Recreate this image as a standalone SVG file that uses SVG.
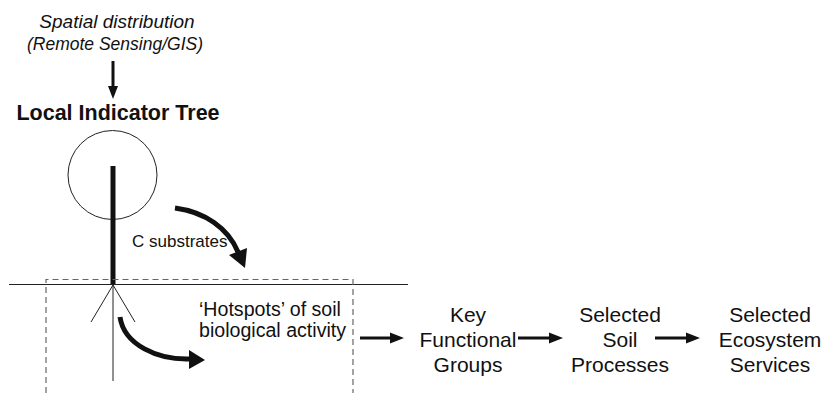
<svg xmlns="http://www.w3.org/2000/svg" width="824" height="393" viewBox="0 0 824 393">
<style>
text{font-family:"Liberation Sans",Arial,sans-serif;fill:#111}
.it{font-style:italic}
.lbl{font-size:21px;text-anchor:middle}
.thin{stroke:#222;stroke-width:1;fill:none}
.thick{stroke:#111;stroke-width:5;fill:none}
.conn{stroke:#111;stroke-width:3;fill:none}
.head{fill:#111}
</style>
<rect width="824" height="393" fill="#fff"/>
<g id="source">
<text class="it" x="117" y="28" font-size="19" text-anchor="middle">Spatial distribution</text>
<text class="it" x="115" y="50" font-size="17.5" text-anchor="middle">(Remote Sensing/GIS)</text>
</g>
<g id="tree">
<text x="118" y="120" font-size="21.5" font-weight="bold" text-anchor="middle">Local Indicator Tree</text>
<circle class="thin" cx="112.5" cy="175" r="44.5"/>
<line x1="113" y1="166" x2="113" y2="285" stroke="#111" stroke-width="5"/>
<line class="thin" x1="113" y1="285" x2="113" y2="381"/>
<line class="thin" x1="113" y1="285" x2="91" y2="322"/>
<line class="thin" x1="113" y1="285" x2="135" y2="322"/>
</g>
<g id="ground">
<line class="thin" x1="9" y1="284.5" x2="408" y2="284.5"/>
<path d="M46,393 V279.5 H353 V393" fill="none" stroke="#666" stroke-width="1.2" stroke-dasharray="6,4"/>
</g>
<g id="csub">
<text x="132" y="247" font-size="17">C substrates</text>
</g>
<g id="hotspots">
<text x="199" y="316" font-size="19.6">‘Hotspots’ of soil</text>
<text x="199" y="337" font-size="19.6">biological activity</text>
</g>
<g id="kfg">
<text class="lbl" x="468" y="322">Key</text>
<text class="lbl" x="468" y="347">Functional</text>
<text class="lbl" x="468" y="372">Groups</text>
</g>
<g id="ssp">
<text class="lbl" x="620" y="322">Selected</text>
<text class="lbl" x="620" y="347">Soil</text>
<text class="lbl" x="620" y="372">Processes</text>
</g>
<g id="ses">
<text class="lbl" x="770" y="322">Selected</text>
<text class="lbl" x="770" y="347">Ecosystem</text>
<text class="lbl" x="770" y="372">Services</text>
</g>
<g id="connectors">
<line class="conn" x1="113" y1="61" x2="113" y2="88"/>
<polygon class="head" points="108,86 118,86 113,99"/>
<path class="thick" d="M175,208 C205,212 228,228 238,252"/>
<polygon class="head" points="247,248 229,255 245,268"/>
<path class="thick" d="M120,317 C124,345 158,360 190,359"/>
<polygon class="head" points="189,350 189,369 205,360"/>
<line class="conn" x1="360" y1="338" x2="392" y2="338"/>
<polygon class="head" points="390,332.5 390,343.5 404,338"/>
<line class="conn" x1="518" y1="338" x2="551" y2="338"/>
<polygon class="head" points="549,332.5 549,343.5 563,338"/>
<line class="conn" x1="655" y1="338" x2="688" y2="338"/>
<polygon class="head" points="686,332.5 686,343.5 700,338"/>
</g>
</svg>
